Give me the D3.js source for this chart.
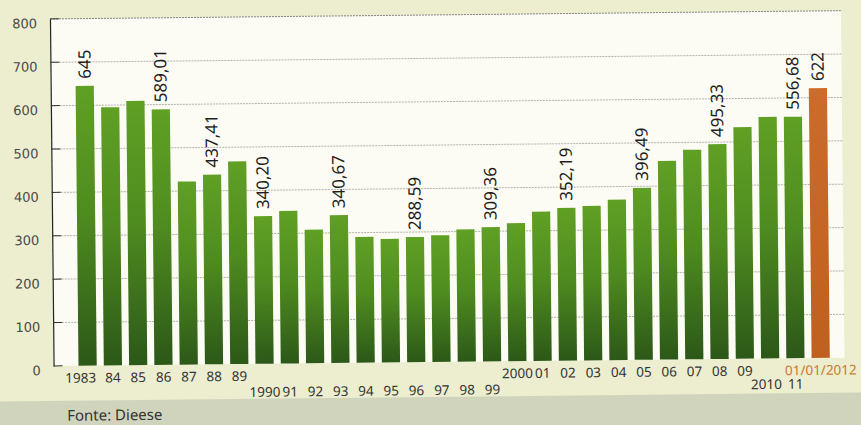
<!DOCTYPE html>
<html>
<head>
<meta charset="utf-8">
<script src="https://cdn.jsdelivr.net/npm/d3@7"></script>
<style>
  html, body { margin: 0; padding: 0; background: #eceecf; }
  svg { display: block; }
</style>
</head>
<body>
<svg id="chart" width="861" height="425"></svg>
<script>
// ---- data ----
const categories = ["1983","84","85","86","87","88","89","1990","91","92","93","94","95","96","97","98","99","2000","01","02","03","04","05","06","07","08","09","2010","11","01/01/2012"];
const values = [645, 595, 609, 589.01, 422, 437.41, 467, 340.20, 352, 308, 340.67, 290, 285, 288.59, 292, 305, 309.36, 318, 344, 352.19, 356, 370, 396.49, 458, 483, 495.33, 534, 557, 556.68, 622];
const valueLabels = ["645","","","589,01","","437,41","","340,20","","","340,67","","","288,59","","","309,36","","","352,19","","","396,49","","","495,33","","","556,68","622"];
const yTicks = [0, 100, 200, 300, 400, 500, 600, 700, 800];
const sourceText = "Fonte: Dieese";

// ---- layout ----
const W = 861, H = 425;
const plotLeft = 52, plotRight = 843;
const svg = d3.select("#chart");

svg.append("rect").attr("width", W).attr("height", H).attr("fill", "#eceecf");

const defs = svg.append("defs");
const gGreen = defs.append("linearGradient").attr("id", "green").attr("x1", 0).attr("y1", 0).attr("x2", 0).attr("y2", 1);
gGreen.append("stop").attr("offset", "0%").attr("stop-color", "#60a024");
gGreen.append("stop").attr("offset", "45%").attr("stop-color", "#4f8c20");
gGreen.append("stop").attr("offset", "100%").attr("stop-color", "#2c5818");
const gOrange = defs.append("linearGradient").attr("id", "orange").attr("x1", 0).attr("y1", 0).attr("x2", 0).attr("y2", 1);
gOrange.append("stop").attr("offset", "0%").attr("stop-color", "#cc6c2c");
gOrange.append("stop").attr("offset", "100%").attr("stop-color", "#c0601f");

// whole page is slightly tilted in the scan
const g = svg.append("g").attr("transform", "rotate(-0.6 430 212)");

const y = d3.scaleLinear().domain([0, 800]).range([362, 15]);
const x = d3.scaleBand().domain(categories).range([73.4, 831.8]).paddingInner(0.28).paddingOuter(0.14);

// bottom source band
g.append("rect").attr("x", -20).attr("y", 397).attr("width", W + 40).attr("height", 60).attr("fill", "#d1d4bc");
g.append("text").attr("x", 65).attr("y", 417)
  .attr("font-family", "Noto Sans, sans-serif").attr("font-size", 15).attr("fill", "#333")
  .text(sourceText);

// plot background
g.append("rect").attr("x", plotLeft).attr("y", y(800)).attr("width", plotRight - plotLeft).attr("height", y(0) - y(800)).attr("fill", "#fcfcf4");

// gridlines
g.append("g").selectAll("line").data(yTicks.filter(d => d > 0)).join("line")
  .attr("x1", plotLeft).attr("x2", plotRight)
  .attr("y1", d => y(d)).attr("y2", d => y(d))
  .attr("stroke", d => d === 800 ? "#777" : "#a8a8a0")
  .attr("stroke-width", 0.9)
  .attr("stroke-dasharray", "2,1");

// left axis
const axis = d3.axisLeft(y).tickValues(yTicks).tickSize(0).tickPadding(13);
const ax = g.append("g").attr("transform", `translate(${plotLeft},0)`).call(axis);
ax.select(".domain").attr("stroke", "#222").attr("stroke-width", 1.2);
ax.selectAll("text").attr("font-family", "DejaVu Sans, sans-serif").attr("font-size", 13).attr("fill", "#4a4a4a")
  .attr("dy", "0.65em");
// small ticks to the right of axis
g.append("g").selectAll("line").data(yTicks).join("line")
  .attr("x1", plotLeft).attr("x2", plotLeft + 9)
  .attr("y1", d => y(d)).attr("y2", d => y(d))
  .attr("stroke", "#333").attr("stroke-width", 1);

// bars
const last = categories.length - 1;
const rows = categories.map((c, i) => ({ cat: c, value: values[i], label: valueLabels[i], last: i === last }));
g.append("g").selectAll("rect").data(rows).join("rect")
  .attr("x", d => x(d.cat))
  .attr("width", x.bandwidth())
  .attr("y", d => y(d.value))
  .attr("height", d => y(0) - y(d.value))
  .attr("fill", d => d.last ? "url(#orange)" : "url(#green)");

// value labels (rotated)
g.append("g").selectAll("text").data(rows.filter(d => d.label !== "")).join("text")
  .attr("transform", d => `translate(${x(d.cat) + x.bandwidth() / 2 + 6},${y(d.value) - 7}) rotate(-90)`)
  .attr("font-family", "Noto Sans, sans-serif").attr("font-size", 17).attr("fill", "#1e1e1e")
  .text(d => d.label);

// x labels, some lowered to a second row
const lowered = new Set(["1990","91","92","93","94","95","96","97","98","99"]);
const lowered2 = new Set(["2010","11"]);
const shiftLeft = { "1983": -7, "2010": -4 };
g.append("g").selectAll("text").data(rows).join("text")
  .attr("x", d => x(d.cat) + x.bandwidth() / 2 + (shiftLeft[d.cat] || 0))
  .attr("y", d => lowered.has(d.cat) ? 395 : lowered2.has(d.cat) ? 392.5 : 379)
  .attr("text-anchor", "middle")
  .attr("font-family", "Noto Sans, sans-serif").attr("font-size", 13.5)
  .attr("fill", d => d.last ? "#c87a30" : "#333")
  .text(d => d.cat);
</script>
</body>
</html>
